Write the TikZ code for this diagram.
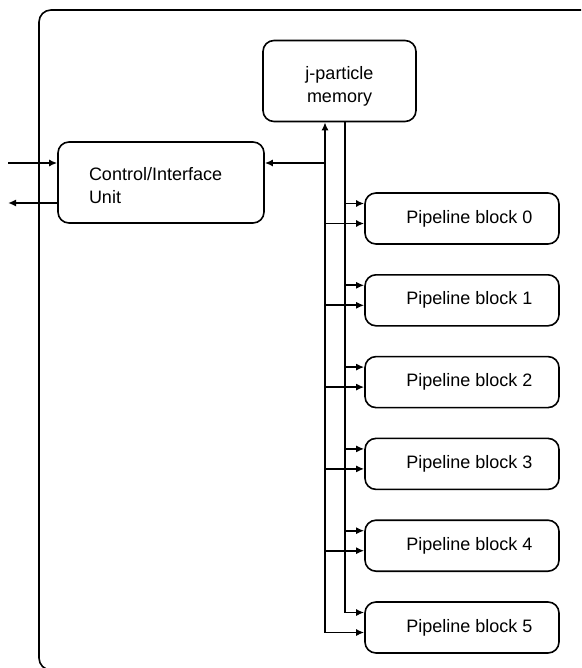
\documentclass[tikz,border=0pt]{standalone}
\usepackage{fontspec}
\setmainfont{Liberation Sans}
\usetikzlibrary{arrows.meta}
\newcommand{\lowertext}[1]{\raisebox{-5pt}[\height][\depth]{\begin{tabular}{@{}c@{}}#1\end{tabular}}}
\newcommand{\lowertextl}[1]{\raisebox{-5pt}[\height][\depth]{\begin{tabular}{@{}l@{}}#1\end{tabular}}}
\begin{document}
\begin{tikzpicture}[x=1pt,y=-1pt,
  box/.style={draw, line width=1.6pt, rounded corners=11pt, inner sep=0pt, font=\fontsize{18}{23}\selectfont},
  arr/.style={-{Latex[length=8pt,width=7pt]}, line width=1.8pt},
  wire/.style={line width=1.8pt}]
\useasboundingbox (0,0) rectangle (581,668);
\begin{scope}
\clip (0,0) rectangle (581,668);
\draw[line width=1.6pt, rounded corners=12pt] (600,10) -- (39,10) -- (39,670) -- (600,670);
\end{scope}
\node[box, minimum width=153pt, minimum height=81pt] (mem) at (339.5,81) {\lowertext{j-particle\\memory}};
\node[box, minimum width=206pt, minimum height=81pt, text width=144pt] (ctrl) at (161,182.5) {\lowertextl{Control/Interface\\Unit}};
\foreach \i in {0,...,5} {
  \node[box, minimum width=194pt, minimum height=51pt] (p\i) at (462,218.5+81.8*\i) {\hspace*{15pt}Pipeline block \i};
  \coordinate (up\i) at ([yshift=15pt]p\i.west);
  \coordinate (lo\i) at ([yshift=-5pt]p\i.west);
}
\coordinate (b1) at (325,0);
\coordinate (b2) at (345,0);
\coordinate (cin) at ([yshift=19.5pt]ctrl.east);
\coordinate (inL) at (8,163);
\coordinate (outL) at (8,203);
% buses
\draw[arr] (b1 |- lo5) -- (b1 |- mem.south);
\draw[wire] (b2 |- mem.south) -- (b2 |- up5);
\foreach \i in {0,...,5} {
  \draw[arr] (b1 |- lo\i) -- (lo\i);
  \draw[arr] (b2 |- up\i) -- (up\i);
}
\draw[arr] (b1 |- cin) -- (cin);
\draw[arr] (inL) -- (inL -| ctrl.west);
\draw[arr] (outL -| ctrl.west) -- (outL);
\end{tikzpicture}
\end{document}
